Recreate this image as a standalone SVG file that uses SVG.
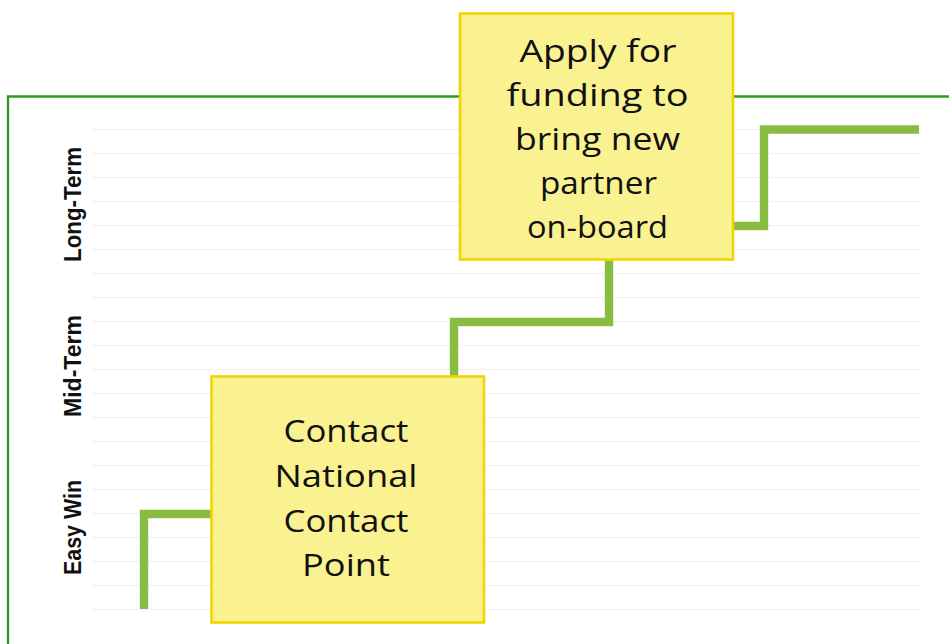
<svg xmlns="http://www.w3.org/2000/svg" width="949" height="644" viewBox="0 0 949 644">
  <style>
    .frame { fill: none; stroke: #2f9a22; stroke-width: 2.4; }
    .grid line { stroke: #e9e9e9; stroke-width: 1.6; stroke-dasharray: 1.2 0.8; }
    .axis { font-family: "Liberation Sans", Arial, sans-serif; font-weight: bold; font-size: 23.5px; fill: #111; text-anchor: middle; }
    .step { fill: none; stroke: #89bd41; stroke-width: 8.4; stroke-linejoin: miter; stroke-linecap: butt; }
    .note rect { fill: #faf191; stroke: #f2d500; stroke-width: 2.6; }
    .note text { font-family: "Open Sans", "DejaVu Sans", sans-serif; font-size: 31px; fill: #111; text-anchor: middle; }
  </style>

  <rect width="949" height="644" fill="#ffffff"/>

  <!-- chart frame: top and left edges -->
  <path class="frame" d="M8,644 V96.5 H949"/>

  <!-- horizontal guide lines -->
  <g class="grid">
    <line x1="92" y1="129.5" x2="920" y2="129.5"/>
    <line x1="92" y1="153.5" x2="920" y2="153.5"/>
    <line x1="92" y1="177.5" x2="920" y2="177.5"/>
    <line x1="92" y1="201.5" x2="920" y2="201.5"/>
    <line x1="92" y1="225.5" x2="920" y2="225.5"/>
    <line x1="92" y1="249.5" x2="920" y2="249.5"/>
    <line x1="92" y1="273.5" x2="920" y2="273.5"/>
    <line x1="92" y1="297.5" x2="920" y2="297.5"/>
    <line x1="92" y1="321.5" x2="920" y2="321.5"/>
    <line x1="92" y1="345.5" x2="920" y2="345.5"/>
    <line x1="92" y1="369.5" x2="920" y2="369.5"/>
    <line x1="92" y1="393.5" x2="920" y2="393.5"/>
    <line x1="92" y1="417.5" x2="920" y2="417.5"/>
    <line x1="92" y1="441.5" x2="920" y2="441.5"/>
    <line x1="92" y1="465.5" x2="920" y2="465.5"/>
    <line x1="92" y1="489.5" x2="920" y2="489.5"/>
    <line x1="92" y1="513.5" x2="920" y2="513.5"/>
    <line x1="92" y1="537.5" x2="920" y2="537.5"/>
    <line x1="92" y1="561.5" x2="920" y2="561.5"/>
    <line x1="92" y1="585.5" x2="920" y2="585.5"/>
    <line x1="92" y1="609.5" x2="920" y2="609.5"/>
  </g>

  <!-- vertical axis labels -->
  <g id="axis-labels">
    <text class="axis" transform="translate(80.5,204.5) rotate(-90)" textLength="115" lengthAdjust="spacingAndGlyphs">Long-Term</text>
    <text class="axis" transform="translate(80.5,366) rotate(-90)" textLength="102" lengthAdjust="spacingAndGlyphs">Mid-Term</text>
    <text class="axis" transform="translate(80.5,527.5) rotate(-90)" textLength="95" lengthAdjust="spacingAndGlyphs">Easy Win</text>
  </g>

  <!-- step path linking the notes -->
  <g id="connectors">
    <path class="step" d="M144,609 V514 H214"/>
    <path class="step" d="M454,378 V322 H609 V258"/>
    <path class="step" d="M732,226 H764 V129.5 H919"/>
  </g>

  <g id="note-contact" class="note">
    <rect x="211.5" y="376.5" width="272.5" height="246"/>
    <text x="346" y="442" textLength="125" lengthAdjust="spacingAndGlyphs">Contact</text>
    <text x="346" y="487" textLength="143" lengthAdjust="spacingAndGlyphs">National</text>
    <text x="346" y="532" textLength="125" lengthAdjust="spacingAndGlyphs">Contact</text>
    <text x="346" y="576" textLength="88" lengthAdjust="spacingAndGlyphs">Point</text>
  </g>

  <g id="note-funding" class="note">
    <rect x="460" y="13.5" width="273" height="246"/>
    <text x="598" y="62" textLength="157" lengthAdjust="spacingAndGlyphs">Apply for</text>
    <text x="597.5" y="106" textLength="182" lengthAdjust="spacingAndGlyphs">funding to</text>
    <text x="597.5" y="150" textLength="165" lengthAdjust="spacingAndGlyphs">bring new</text>
    <text x="598.5" y="194" textLength="117" lengthAdjust="spacingAndGlyphs">partner</text>
    <text x="597.5" y="238" textLength="141" lengthAdjust="spacingAndGlyphs">on-board</text>
  </g>
</svg>
